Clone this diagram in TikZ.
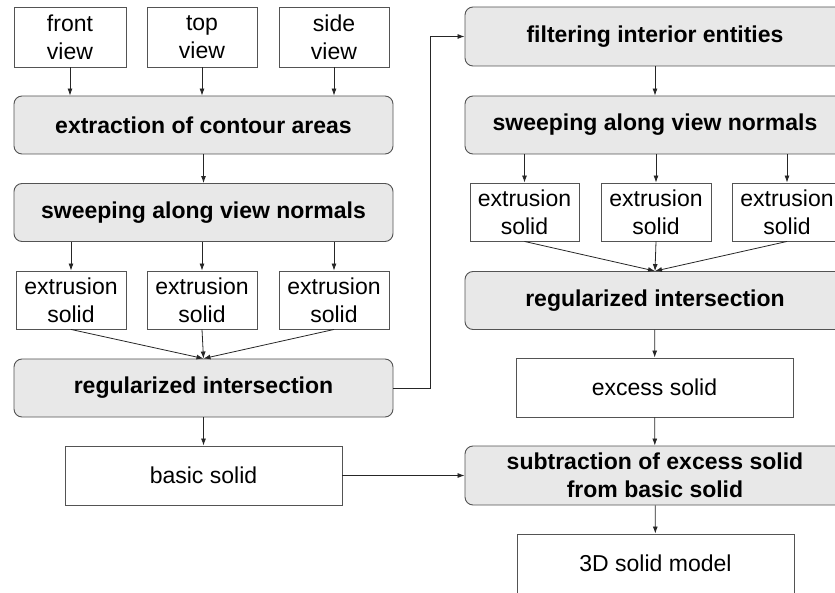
\documentclass[tikz,border=0pt]{standalone}
\usepackage{fontspec}
\setmainfont{Liberation Sans}
\usetikzlibrary{arrows.meta}

\tikzset{
    stage/.style={draw=gray!65!black, fill=gray!18, rounded corners=8pt, line width=0.9pt,
        inner sep=0pt, align=center, font=\fontsize{23}{28}\selectfont\bfseries,
        minimum height=58pt},
    item/.style={draw=gray!65!black, fill=white, line width=0.9pt, inner sep=0pt,
        align=center, font=\fontsize{23}{28}\selectfont, minimum height=58pt},
    flow/.style={draw=black!85, line width=0.8pt, -{Latex[length=7pt,width=5pt]}}
}

\begin{document}
\begin{tikzpicture}[x=1pt,y=-1pt]
        \useasboundingbox (0,0) rectangle (835,593);
        \clip (0,0) rectangle (835,593);
        % Left column: views
        \node[item, minimum width=112pt, minimum height=60pt] (front) at (70,37) {front\\view};
        \node[item, minimum width=110pt, minimum height=60pt] (top) at (202,37) {top\\view};
        \node[item, minimum width=110pt, minimum height=60pt] (side) at (334,37) {side\\view};
        % Left column: basic solid
        \node[stage, minimum width=379pt] (extract) at (203.5,125) {extraction of contour areas};
        \node[stage, minimum width=379pt] (sweepL) at (203.5,212.5) {sweeping along view normals};
        \node[item, minimum width=110pt] (exL1) at (71,300) {extrusion\\solid};
        \node[item, minimum width=110pt] (exL2) at (202,300) {extrusion\\solid};
        \node[item, minimum width=110pt] (exL3) at (334,300) {extrusion\\solid};
        \node[stage, minimum width=379pt] (regL) at (203.5,388) {regularized intersection};
        \node[item, minimum width=277pt, minimum height=59pt] (basic) at (203.5,475.5) {basic solid};
        % Right column: excess solid
        \node[stage, minimum width=380pt, minimum height=59pt] (filter) at (655,36.5) {filtering interior entities};
        \node[stage, minimum width=380pt] (sweepR) at (655,125) {sweeping along view normals};
        \node[item, minimum width=109pt] (exR1) at (524.5,212) {extrusion\\solid};
        \node[item, minimum width=110pt] (exR2) at (656,212) {extrusion\\solid};
        \node[item, minimum width=110pt] (exR3) at (787,212) {extrusion\\solid};
        \node[stage, minimum width=380pt] (regR) at (655,300.5) {regularized intersection};
        \node[item, minimum width=277pt, minimum height=59pt] (excess) at (654.5,387.5) {excess solid};
        \node[stage, minimum width=380pt, minimum height=59pt] (subtract) at (655,475.5) {subtraction of excess solid\\from basic solid};
        \node[item, minimum width=277pt, minimum height=59pt] (model) at (655.5,563.5) {3D solid model};
        % Connectors, left
        \foreach \v in {front,top,side}
            \draw[flow] (\v.south) -- (\v.south |- extract.north);
        \draw[flow] (extract) -- (sweepL);
        \foreach \e in {exL1,exL2,exL3} {
            \draw[flow] (\e.north |- sweepL.south) -- (\e.north);
            \draw[flow] (\e.south) -- (regL.north);
        }
        \draw[flow] (regL) -- (basic);
        % Connectors, right
        \draw[flow] (regL.east) -- ++(37,0) |- (filter.west);
        \draw[flow] (filter) -- (sweepR);
        \foreach \e in {exR1,exR2,exR3} {
            \draw[flow] (\e.north |- sweepR.south) -- (\e.north);
            \draw[flow] (\e.south) -- (regR.north);
        }
        \draw[flow] (regR) -- (excess);
        \draw[flow] (excess) -- (subtract);
        \draw[flow] (basic.east) -- (subtract.west);
        \draw[flow] (subtract) -- (model);
    \end{tikzpicture}
\end{document}
